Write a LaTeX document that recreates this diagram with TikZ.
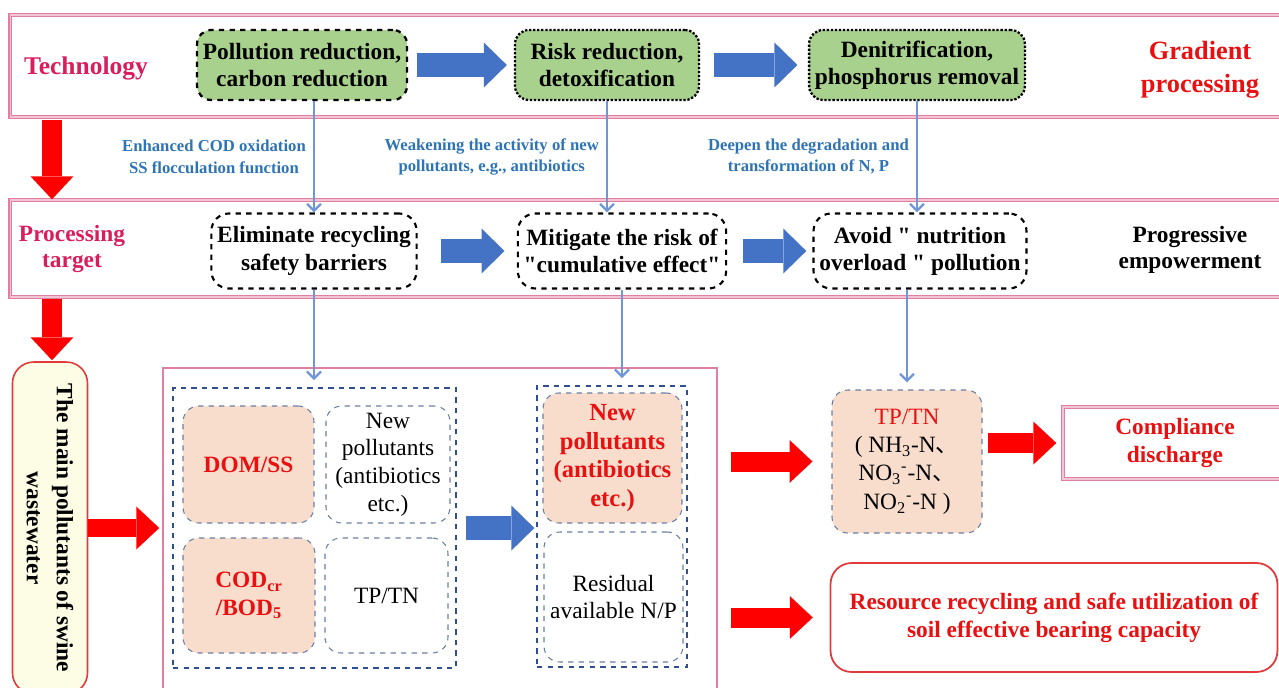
\documentclass[tikz,border=0pt]{standalone}
\usepackage{fontspec}
\setmainfont{Liberation Serif}
\newfontfamily\cjk{Noto Sans CJK SC}
\usepackage{tikz}
\usetikzlibrary{arrows.meta}

\definecolor{bandpink}{HTML}{E07FA0}
\definecolor{crimson}{HTML}{D81E5B}
\definecolor{leaf}{HTML}{A9D18E}
\definecolor{flowblue}{HTML}{4472C4}
\definecolor{noteblue}{HTML}{2E74B5}
\definecolor{linkblue}{HTML}{6E96D8}
\definecolor{hotred}{HTML}{E81010}
\definecolor{peach}{HTML}{F8DDCC}
\definecolor{cellgray}{HTML}{6A7FA3}
\definecolor{navy}{HTML}{2F4F8F}
\definecolor{cream}{HTML}{FDFDE6}
\definecolor{srcred}{HTML}{E03A3A}

\begin{document}
\begin{tikzpicture}[x=0.02cm, y=-0.02cm,
  font=\fontsize{13.3}{15.5}\selectfont,
  band/.style={draw=bandpink, line width=0.8pt, double=bandpink!45, double distance=0.7pt},
  tech/.style={draw=black, fill=leaf, rounded corners=8pt, line width=1.3pt, align=center,
    font=\fontsize{13.3}{15.5}\selectfont\bfseries, minimum height=1.4cm},
  aim/.style={draw=black, dashed, rounded corners=10pt, line width=1.2pt, align=center,
    font=\fontsize{13.3}{15.5}\selectfont\bfseries, minimum height=1.5cm},
  grid/.style={draw=navy, dashed, line width=1pt},
  cell/.style={draw=cellgray, dashed, line width=0.6pt, rounded corners=9pt, align=center,
    inner sep=1pt, font=\fontsize{13.3}{15.8}\selectfont},
  hot/.style={fill=peach, text=hotred, font=\fontsize{13.3}{15.8}\selectfont\bfseries},
  note/.style={left, text=noteblue, align=center, inner sep=4pt,
    font=\fontsize{9.5}{12}\selectfont\bfseries},
  link/.style={draw=linkblue, line width=1.3pt, -{Straight Barb[length=4pt,width=8pt]}},
  flow/.style={draw=flowblue, line width=0.48cm, -{Triangle[length=0.46cm,width=0.9cm,line width=0pt]}},
  push/.style={draw=red, line width=0.4cm, -{Triangle[length=0.46cm,width=0.86cm,line width=0pt]}},
]
\useasboundingbox (0,0) rectangle (1279,687);
\clip (0,0) rectangle (1279,687);

\draw (660,66)    node (techband) [band, minimum width=26cm, minimum height=2.04cm] {};
\draw (660,248.5) node (aimband)  [band, minimum width=26cm, minimum height=1.94cm] {};

\draw (86,68)   node (techlbl) [text=crimson, font=\fontsize{14.5}{17}\selectfont\bfseries] {Technology};
\draw (302,65)  node (A) [tech, dashed, minimum width=4.16cm] {Pollution reduction,\\carbon reduction};
\draw (607,65)  node (B) [tech, densely dotted, minimum width=3.68cm] {Risk reduction,\\detoxification};
\draw (917,65)  node (C) [tech, densely dotted, minimum width=4.3cm] {Denitrification,\\phosphorus removal};
\draw (1200,70) node (gradlbl) [text=hotred, align=center, font=\fontsize{15}{19}\selectfont\bfseries] {Gradient\\processing};
\draw[flow, shorten <=5pt, shorten >=4pt] (A) -- (B);
\draw[flow, shorten <=8pt, shorten >=6pt] (B) -- (C);

\draw (72,249)   node (aimlbl) [text=crimson, align=center, font=\fontsize{13.3}{15}\selectfont\bfseries] {Processing\\target};
\draw (314,251)  node (D) [aim, minimum width=4.08cm] {Eliminate recycling\\safety barriers};
\draw (622,251)  node (E) [aim, minimum width=4.0cm] {Mitigate the risk of\\\textquotedbl cumulative effect\textquotedbl};
\draw (920,251)  node (F) [aim, minimum width=4.26cm] {Avoid \textquotedbl{} nutrition\\overload \textquotedbl{} pollution};
\draw (1190,250) node (proglbl) [align=center, font=\fontsize{13.3}{15}\selectfont\bfseries] {Progressive\\empowerment};
\draw[flow, shorten <=13pt, shorten >=7pt] (D) -- (E);
\draw[flow, shorten <=9pt, shorten >=3.5pt] (E) -- (F);

\draw[link] (A.south -| D.north) -- node[note] {Enhanced COD oxidation\\SS flocculation function} (D.north);
\draw[link] (B.south) -- node[note] {Weakening the activity of new\\pollutants, e.g., antibiotics} (B.south |- E.north);
\draw[link] (C.south) -- node[note] {Deepen the degradation and\\transformation of N, P} (C.south |- F.north);

\coordinate (rail) at (52,0);
\draw[push, shorten <=1.5pt] (techband.south -| rail) -- (aimband.north -| rail);
\draw[push, shorten <=1pt, shorten >=1pt] (aimband.south -| rail) -- (rail |- 0,362);

\draw (50,528) node (source) [rotate=-90, draw=srcred, fill=cream, rounded corners=12pt, line width=0.9pt,
  minimum width=6.64cm, minimum height=1.5cm, align=center, font=\fontsize{13.3}{17}\selectfont\bfseries]
  {The main pollutants of swine\\wastewater};
\draw (440,534) node (stage) [draw=bandpink, line width=0.9pt, minimum width=11.08cm, minimum height=6.64cm] {};
\draw[push, line width=0.36cm, shorten >=1.7pt] (source.north) -- (source.north -| stage.west);

\draw (314.5,528) node (grid1) [grid, minimum width=5.66cm, minimum height=5.6cm] {};
\draw (248.5,464.5) node (dom)   [cell, hot, minimum width=2.62cm, minimum height=2.34cm] {DOM/SS};
\draw (388,464.5)   node (newp)  [cell, minimum width=2.48cm, minimum height=2.34cm] {New\\pollutants\\(antibiotics\\etc.)};
\draw (249,595.5)   node (cod)   [cell, hot, minimum width=2.64cm, minimum height=2.3cm] {COD\textsubscript{cr}\\/BOD\textsubscript{5}};
\draw (386.5,595.5) node (tptnA) [cell, minimum width=2.46cm, minimum height=2.3cm] {TP/TN};

\draw (612,526.5) node (grid2) [grid, minimum width=3.0cm, minimum height=5.62cm] {};
\draw (612.5,458) node (newp2) [cell, hot, minimum width=2.78cm, minimum height=2.6cm, font=\fontsize{14}{16.2}\selectfont\bfseries] {New\\pollutants\\(antibiotics\\etc.)};
\draw (613.5,597) node (resid) [cell, minimum width=2.78cm, minimum height=2.6cm] {Residual\\available N/P};
\draw[flow, shorten <=5pt, shorten >=1pt] (grid1.east) -- (grid1.east -| grid2.west);

\draw[link, shorten >=4pt] (D.south) -- (D.south |- grid1.north);
\draw[link, shorten >=4pt] (E.south) -- (E.south |- grid2.north);

\draw (907,461.5) node (tptn) [cell, fill=peach, minimum width=3.0cm, minimum height=2.86cm, font=\fontsize{13.3}{16.2}\selectfont]
  {\textcolor{hotred}{TP/TN}\\( NH\textsubscript{3}-N{\cjk 、}\\NO\textsubscript{3}\textsuperscript{-}-N{\cjk 、}\\NO\textsubscript{2}\textsuperscript{-}-N )};
\draw[link, shorten >=4pt] (F.south -| tptn.north) -- (tptn.north);

\draw (1175,443)  node (comply) [band, minimum width=4.48cm, minimum height=1.44cm, text=hotred, align=center,
  font=\fontsize{13.3}{15.5}\selectfont\bfseries] {Compliance\\discharge};
\draw (1054,617.5) node (reuse) [draw=srcred, rounded corners=12pt, line width=1pt, minimum width=8.94cm, minimum height=2.18cm,
  text=hotred, align=center, font=\fontsize{13.3}{16}\selectfont\bfseries] {Resource recycling and safe utilization of\\soil effective bearing capacity};

\draw[push, shorten <=7.4pt, shorten >=10.8pt] (stage.east |- tptn.west) -- (tptn.west);
\draw[push, shorten <=7.4pt, shorten >=9.6pt] (stage.east |- reuse.west) -- (reuse.west);
\draw[push, shorten <=3pt, shorten >=3.4pt] (tptn.east |- comply.west) -- (comply.west);
\end{tikzpicture}
\end{document}
